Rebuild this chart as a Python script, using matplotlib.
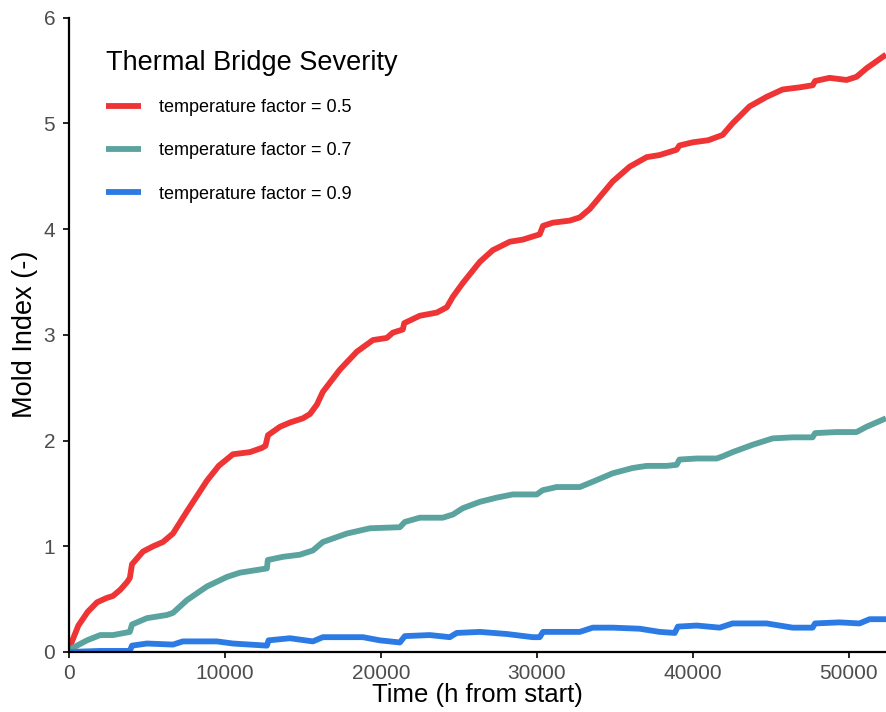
import matplotlib
matplotlib.use('Agg')
import matplotlib.pyplot as plt

plt.rcParams['font.family'] = ['Liberation Sans', 'DejaVu Sans']

# --- data ---
labels = ['temperature factor = 0.5', 'temperature factor = 0.7', 'temperature factor = 0.9']
colors = ['#EE3434', '#5AA39F', '#2C7BE5']

t_05 = [0, 600, 1200, 1800, 2400, 2820, 3300, 3718, 3900, 4040,
        4744, 5400, 6026, 6667, 7564, 8846, 9600, 10513, 11600, 12370,
        12600, 12760, 13530, 14170, 15000, 15450, 15900, 16280, 17370, 18460,
        19490, 20380, 20770, 21410, 21500, 22500, 23590, 24230, 24620, 25260,
        26350, 27180, 28270, 29100, 30190, 30400, 31030, 32120, 32760, 33400,
        33910, 34870, 35960, 37050, 37880, 38970, 39150, 40000, 41000, 41920,
        42560, 43650, 44740, 45770, 46860, 47700, 47850, 48780, 49870, 50510,
        51150, 52400]
m_05 = [0.03, 0.25, 0.38, 0.47, 0.51, 0.53, 0.59, 0.66, 0.70, 0.83,
        0.95, 1.00, 1.04, 1.12, 1.33, 1.62, 1.76, 1.87, 1.89, 1.93,
        1.95, 2.05, 2.13, 2.17, 2.21, 2.25, 2.34, 2.46, 2.67, 2.84,
        2.95, 2.97, 3.02, 3.05, 3.11, 3.18, 3.21, 3.26, 3.36, 3.49,
        3.69, 3.80, 3.88, 3.90, 3.95, 4.03, 4.06, 4.08, 4.11, 4.19,
        4.28, 4.45, 4.59, 4.68, 4.70, 4.75, 4.79, 4.82, 4.84, 4.89,
        5.00, 5.16, 5.25, 5.32, 5.34, 5.36, 5.40, 5.43, 5.41, 5.44,
        5.52, 5.65]

t_07 = [0, 1150, 2000, 2820, 3900, 4040, 5000, 6280, 6670, 7560,
        8850, 10130, 10960, 12240, 12690, 12750, 13720, 14800, 15640, 16280,
        17820, 19300, 21220, 21540, 22500, 23970, 24620, 25260, 26350, 27440,
        28460, 30000, 30380, 31280, 32760, 33590, 34870, 36150, 37050, 38330,
        38970, 39150, 40260, 41540, 41920, 42560, 43850, 45130, 46410, 47690,
        47850, 49230, 50510, 51150, 52400]
m_07 = [0.02, 0.11, 0.16, 0.16, 0.19, 0.26, 0.32, 0.35, 0.37, 0.49,
        0.62, 0.71, 0.75, 0.78, 0.79, 0.87, 0.90, 0.92, 0.96, 1.04,
        1.12, 1.17, 1.18, 1.23, 1.27, 1.27, 1.30, 1.36, 1.42, 1.46,
        1.49, 1.49, 1.53, 1.56, 1.56, 1.61, 1.69, 1.74, 1.76, 1.76,
        1.77, 1.82, 1.83, 1.83, 1.85, 1.89, 1.96, 2.02, 2.03, 2.03,
        2.07, 2.08, 2.08, 2.13, 2.21]

t_09 = [0, 2000, 3900, 4040, 5000, 6670, 7300, 8400, 9490, 10510,
        11600, 12690, 12800, 14170, 15640, 16280, 18850, 19940, 21220, 21540,
        23140, 24420, 24870, 26350, 28080, 29740, 30190, 30400, 32760, 33590,
        34870, 36600, 37880, 38850, 39050, 40260, 41730, 42560, 44740, 46410,
        47690, 47850, 49420, 50700, 51350, 52400]
m_09 = [0.0, 0.01, 0.01, 0.06, 0.08, 0.07, 0.10, 0.10, 0.10, 0.08,
        0.07, 0.06, 0.11, 0.13, 0.10, 0.14, 0.14, 0.11, 0.09, 0.15,
        0.16, 0.14, 0.18, 0.19, 0.17, 0.14, 0.14, 0.19, 0.19, 0.23,
        0.23, 0.22, 0.19, 0.18, 0.24, 0.25, 0.23, 0.27, 0.27, 0.23,
        0.23, 0.27, 0.28, 0.27, 0.31, 0.31]

x_ticks = [0, 10000, 20000, 30000, 40000, 50000]
y_ticks = [0, 1, 2, 3, 4, 5, 6]

#------------------------------------------------------
fig = plt.figure(figsize=(8.86, 7.12), dpi=100)
ax = fig.add_axes([0.0779, 0.0843, 0.9221, 0.891])

series = [(t_05, m_05), (t_07, m_07), (t_09, m_09)]
for (t, m), c, lb in zip(series, colors, labels):
    ax.plot(t, m, color=c, linewidth=4.2, label=lb, solid_capstyle='butt')

ax.set_xlim(0, 52400)
ax.set_ylim(0, 6)
ax.set_xticks(x_ticks)
ax.set_yticks(y_ticks)
ax.set_xticklabels([str(v) for v in x_ticks])
ax.set_yticklabels([str(v) for v in y_ticks])

for s in ['top', 'right']:
    ax.spines[s].set_visible(False)
for s in ['left', 'bottom']:
    ax.spines[s].set_linewidth(1.6)
    ax.spines[s].set_color('black')
ax.tick_params(direction='out', length=4, width=1.2, colors='black',
               labelcolor='#4D4D4D', labelsize=15)
ax.tick_params(axis='x', pad=5)
ax.tick_params(axis='y', pad=6)

# x label sits at the very bottom edge, as in the reference
ax.set_xlabel('Time (h from start)', fontsize=18.5, labelpad=0)
ax.set_ylabel('Mold Index (-)', fontsize=19.5, labelpad=4)

leg = ax.legend(title='Thermal Bridge Severity', loc='upper left',
                bbox_to_anchor=(0.025, 0.975), frameon=False, fontsize=13,
                title_fontsize=19.5, handlelength=1.95, handletextpad=1.0,
                labelspacing=1.45, alignment='left')
leg._legend_box.sep = 17

fig.savefig('out.png', dpi=100)
